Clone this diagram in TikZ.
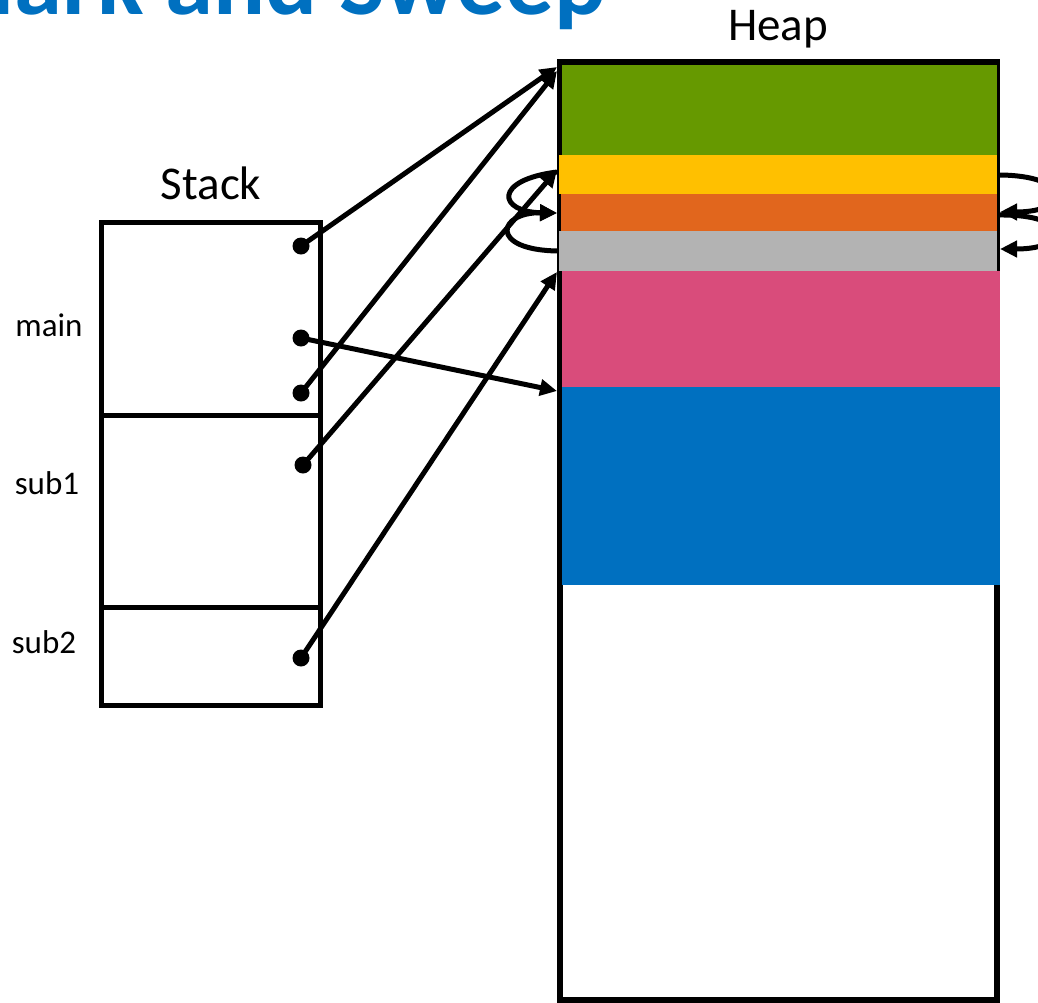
\documentclass[tikz,border=0pt]{standalone}
\usepackage{fontspec}
\setmainfont{Carlito}
\usetikzlibrary{arrows.meta}

\definecolor{titleblue}{HTML}{0070C0}
\definecolor{objgreen}{HTML}{669900}
\definecolor{objyellow}{HTML}{FFC000}
\definecolor{objorange}{HTML}{E1661D}
\definecolor{objgray}{HTML}{B3B3B3}
\definecolor{objpink}{HTML}{D94C7B}
\definecolor{objblue}{HTML}{0070C0}

\tikzset{
  frame box/.style={rectangle, draw=black, line width=5pt, inner sep=0pt, outer sep=0pt, anchor=north west},
  block/.style={rectangle, draw=none, inner sep=0pt, outer sep=0pt, anchor=north west},
  dot/.style={circle, fill=black, inner sep=0pt, minimum size=17pt},
  ref/.style={line width=5pt, -{Triangle[length=17pt,width=16pt]}},
  heading/.style={font=\fontsize{47}{47}\selectfont, anchor=base, inner sep=0pt},
  frame label/.style={font=\fontsize{33}{33}\selectfont, anchor=base, inner sep=0pt},
  slide title/.style={font=\fontsize{97}{97}\selectfont\bfseries, text=titleblue, anchor=base west, inner sep=0pt}
}

\begin{document}
\begin{tikzpicture}[x=1pt, y=-1pt]
  \useasboundingbox (0,0) rectangle (1038,1002);
  \clip (0,0) rectangle (1038,1002);

  % slide title
  \node[slide title] (title) at (-70,14) {Mark and Sweep};

  % headings
  \node[heading] (stacklbl) at (211,199) {Stack};
  \node[heading] (heaplbl) at (778,40) {Heap};

  % stack frames
  \node[frame box, minimum width=219pt, minimum height=193pt] (fmain) at (101,222) {};
  \node[frame box, minimum width=219pt, minimum height=192pt] (fsub1) at (101,415) {};
  \node[frame box, minimum width=219pt, minimum height=98pt]  (fsub2) at (101,607) {};

  \node[frame label] (lmain) at (49,336) {main};
  \node[frame label] (lsub1) at (47,494) {sub1};
  \node[frame label] (lsub2) at (44,653) {sub2};

  % heap outline
  \draw[line width=5.5pt] (560,62) rectangle (997,1000);

  % heap objects
  \node[block, fill=objgreen,  minimum width=435pt, minimum height=90pt]  (ogreen)  at (562,65)  {};
  \node[block, fill=objyellow, minimum width=438pt, minimum height=39pt]  (oyellow) at (559,155) {};
  \node[block, fill=objorange, minimum width=436pt, minimum height=37pt]  (oorange) at (561,194) {};
  \node[block, fill=objgray,   minimum width=438pt, minimum height=40pt]  (ogray)   at (559,231) {};
  \node[block, fill=objpink,   minimum width=438pt, minimum height=116pt] (opink)   at (562,271) {};
  \node[block, fill=objblue,   minimum width=438pt, minimum height=198pt] (oblue)   at (562,387) {};

  % pointer targets on the heap
  \coordinate (tgreenA) at (557,67);
  \coordinate (tgreenB) at (557,71);
  \coordinate (tyellow) at (557,170);
  \coordinate (tgray)   at (557,272);
  \coordinate (tblue)   at (557,391);

  % references held by the stack frames
  \node[dot] (p1) at (301,246) {};
  \node[dot] (p2) at (301,338) {};
  \node[dot] (p3) at (301,393) {};
  \node[dot] (p4) at (303,465) {};
  \node[dot] (p5) at (301,658) {};

  \draw[ref] (p1.center) -- (tgreenA);
  \draw[ref] (p3.center) -- (tgreenB);
  \draw[ref] (p4.center) -- (tyellow);
  \draw[ref] (p5.center) -- (tgray);
  \draw[ref] (p2.center) -- (tblue);

  % references between heap objects, left side
  \coordinate (ly) at (557,172);
  \coordinate (lo) at (557,213);
  \coordinate (lg) at (558,251);
  \draw[ref] (ly) .. controls (493,180) and (498,212) .. (lo);
  \draw[ref] (lg) .. controls (488,250) and (498,212) .. (lo);

  % references between heap objects, right side
  \coordinate (ry) at (998,175);
  \coordinate (ro) at (1000,212);
  \coordinate (ros) at (999,215);
  \coordinate (rg) at (1000,249);
  \draw[ref] (ry) .. controls (1072,175) and (1072,212) .. (ro);
  \draw[ref] (ros) .. controls (1072,214) and (1072,249) .. (rg);
\end{tikzpicture}
\end{document}
